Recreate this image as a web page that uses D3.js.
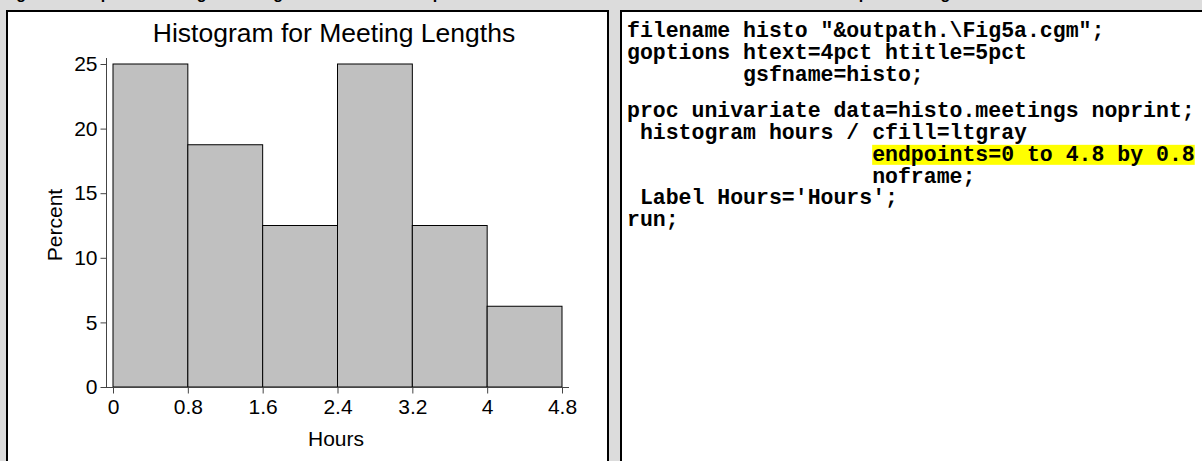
<!DOCTYPE html>
<html><head><meta charset="utf-8">
<script src="https://cdn.jsdelivr.net/npm/d3@7"></script>
<style>
html,body{margin:0;padding:0;background:#dcdcdc;overflow:hidden;}
svg{display:block;}
</style></head>
<body>
<script>
// ---- data ----
const binStarts = [0, 0.8, 1.6, 2.4, 3.2, 4.0];
const binEnds   = [0.8, 1.6, 2.4, 3.2, 4.0, 4.8];
const percents  = [25, 18.75, 12.5, 25, 12.5, 6.25];
const xTicks    = [0, 0.8, 1.6, 2.4, 3.2, 4.0, 4.8];
const xTickLabels = ["0", "0.8", "1.6", "2.4", "3.2", "4", "4.8"];
const yTicks    = [0, 5, 10, 15, 20, 25];
const chartTitle = "Histogram for Meeting Lengths";
const xLabel = "Hours";
const yLabel = "Percent";
const codeLines = [
  'filename histo "&outpath.\\Fig5a.cgm";',
  'goptions htext=4pct htitle=5pct',
  '         gsfname=histo;',
  '',
  'proc univariate data=histo.meetings noprint;',
  ' histogram hours / cfill=ltgray',
  '                   endpoints=0 to 4.8 by 0.8',
  '                   noframe;',
  " Label Hours='Hours';",
  'run;'
];
const highlightLine = 6;
const highlightText = 'endpoints=0 to 4.8 by 0.8';
const captions = ["Figure 5a. Improved histogram using the ENDPOINTS= option", "SAS code to produce Figure 5a"];

// ---- drawing ----
const W = 1202, H = 461;
const svg = d3.select("body").append("svg").attr("width", W).attr("height", H);
svg.append("rect").attr("width", W).attr("height", H).attr("fill", "#dcdcdc");

// partially cut captions at the top (as in the reference)
svg.append("text").attr("x", 2).attr("y", -1).attr("font-family", "Liberation Sans, Arial, sans-serif")
  .attr("font-weight", "bold").attr("font-size", 16).text(captions[0]);
svg.append("text").attr("x", 760).attr("y", -1).attr("font-family", "Liberation Sans, Arial, sans-serif")
  .attr("font-weight", "bold").attr("font-size", 16).text(captions[1]);

// panels
svg.append("rect").attr("x", 7).attr("y", 11).attr("width", 601).attr("height", 470)
  .attr("fill", "#fff").attr("stroke", "#000").attr("stroke-width", 2);
svg.append("rect").attr("x", 621).attr("y", 11).attr("width", 600).attr("height", 470)
  .attr("fill", "#fff").attr("stroke", "#000").attr("stroke-width", 2);

// ---- histogram ----
const x = d3.scaleLinear().domain([0, 4.8]).range([113, 562]);
const y = d3.scaleLinear().domain([0, 25]).range([387, 64]);
const font = "Liberation Sans, Arial, sans-serif";
const g = svg.append("g");

g.append("text").attr("x", 334).attr("y", 42).attr("text-anchor", "middle")
  .attr("font-family", font).attr("font-size", 26.5).attr("fill", "#000").text(chartTitle);

g.selectAll("rect.bar").data(percents).join("rect").attr("class", "bar")
  .attr("x", (d, i) => x(binStarts[i]))
  .attr("width", (d, i) => x(binEnds[i]) - x(binStarts[i]))
  .attr("y", d => y(d))
  .attr("height", d => y(0) - y(d))
  .attr("fill", "#c0c0c0").attr("stroke", "#000").attr("stroke-width", 1);

const axisColor = "#444";
// y axis
const yAxis = g.append("g").attr("transform", "translate(106.5,0)")
  .call(d3.axisLeft(y).tickValues(yTicks).tickSize(6).tickPadding(3).tickFormat(d3.format("d")));
yAxis.select(".domain").attr("d", `M0,${y(0)}V58`).attr("stroke", axisColor);
yAxis.selectAll(".tick line").attr("stroke", axisColor);
yAxis.selectAll(".tick text").attr("font-family", font).attr("font-size", 21).attr("fill", "#000");

// x axis
const xAxis = g.append("g").attr("transform", `translate(0,${y(0) + 0.5})`)
  .call(d3.axisBottom(x).tickValues(xTicks).tickSize(6).tickPadding(6)
    .tickFormat((d, i) => xTickLabels[i]));
xAxis.select(".domain").attr("d", `M103,0H569`).attr("stroke", axisColor);
xAxis.selectAll(".tick line").attr("stroke", axisColor);
xAxis.selectAll(".tick text").attr("font-family", font).attr("font-size", 21).attr("fill", "#000");

g.append("text").attr("x", 336).attr("y", 446).attr("text-anchor", "middle")
  .attr("font-family", font).attr("font-size", 21).text(xLabel);
g.append("text").attr("transform", "translate(62,225) rotate(-90)").attr("text-anchor", "middle")
  .attr("font-family", font).attr("font-size", 21).text(yLabel);

// ---- code panel ----
const mono = "Liberation Mono, Courier New, monospace";
const codeX = 627, fs = 21.5, lh = 21.8;
const code = svg.append("g");
const probe = code.append("text").attr("font-family", mono).attr("font-weight", "bold")
  .attr("font-size", fs).text("0000000000");
const cw = probe.node().getComputedTextLength() / 10;
probe.remove();
let cur = 37; const baselines = [];
codeLines.forEach((l) => { baselines.push(cur); cur += (l === '' ? lh * 0.68 : lh); });
// highlight
const hl = codeLines[highlightLine];
const hs = hl.indexOf(highlightText);
code.append("rect").attr("x", codeX + hs * cw).attr("y", baselines[highlightLine] - 16)
  .attr("width", highlightText.length * cw).attr("height", 20).attr("fill", "#ffff00");
code.selectAll("text.code").data(codeLines).join("text").attr("class", "code")
  .attr("x", codeX).attr("y", (d, i) => baselines[i])
  .attr("font-family", mono).attr("font-weight", "bold").attr("font-size", fs)
  .attr("xml:space", "preserve").style("white-space", "pre").attr("fill", "#000")
  .text(d => d);
</script>
</body></html>
